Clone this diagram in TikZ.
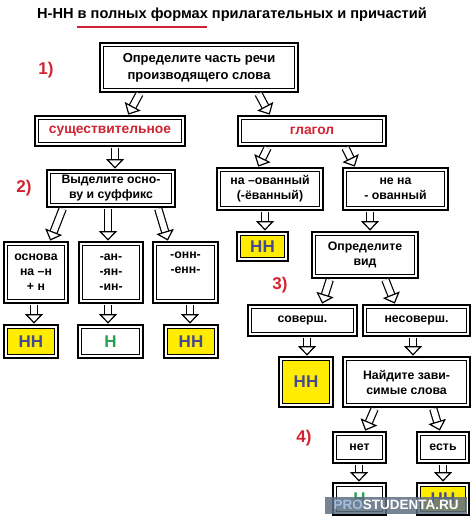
\documentclass[tikz,border=0pt]{standalone}
\usepackage{fontspec}
\setmainfont{Liberation Sans}
\usetikzlibrary{arrows.meta,calc}
\definecolor{myred}{RGB}{210,35,50}
\definecolor{mygreen}{RGB}{40,160,80}
\definecolor{yel}{RGB}{255,236,0}
\definecolor{nnblue}{RGB}{70,75,140}
\definecolor{wmgray}{RGB}{95,110,128}
\definecolor{wmblue}{RGB}{160,190,225}
\begin{document}
\begin{tikzpicture}[x=1pt,y=-1pt,
  box/.style={draw, line width=1.8pt, inner sep=0pt, align=center,
    font=\bfseries\fontsize{12.3}{15}\selectfont,
    path picture={\draw[line width=0.7pt, fill=#1]
      ([shift={(3.2pt,-3.2pt)}]path picture bounding box.north west) rectangle
      ([shift={(-3.2pt,3.2pt)}]path picture bounding box.south east);}},
  box/.default=white,
  harrow/.style={line width=1.2pt, double=white, double distance=6pt,
    -{Triangle[open, length=9.5pt, width=18pt, line width=1.2pt]},
    shorten <=1pt, shorten >=0.5pt},
  num/.style={text=myred, font=\bfseries\fontsize{17}{17}\selectfont},
  big/.style={font=\bfseries\fontsize{17}{17}\selectfont}]
\useasboundingbox (0,0) rectangle (474,521);

% title
\node[font=\bfseries\fontsize{14.6}{16}\selectfont] (title) at (232,15)
  {Н-НН в полных формах прилагательных и причастий};
\draw[myred, line width=2pt] (77,27.5) -- (207,27.5);

% numbers
\node[num] (n1) at (46,70) {1)};
\node[num] (n2) at (24,188) {2)};
\node[num] (n3) at (280,285) {3)};
\node[num] (n4) at (304,438) {4)};

% boxes
\node[box, minimum width=198, minimum height=49, font=\bfseries\fontsize{13}{17}\selectfont] (top) at (199,67.5)
  {Определите часть речи\\производящего слова};
\node[box, minimum width=150, minimum height=30, text=myred, font=\bfseries\fontsize{13.8}{15}\selectfont] (noun) at (110,131) {существительное};
\node[box, minimum width=148, minimum height=30, text=myred, font=\bfseries\fontsize{13.8}{15}\selectfont] (verb) at (312,131) {глагол};
\node[box, minimum width=128, minimum height=37] (sel) at (111,188.5) {Выделите осно-\\ву и суффикс};

\node[box, minimum width=64, minimum height=61] (b1) at (36,272.5) {основа\\на –н\\+ н};
\node[box, minimum width=64, minimum height=61] (b2) at (111,272.5) {-ан-\\-ян-\\-ин-};
\node[box, minimum width=65, minimum height=61] (b3) at (185.5,272.5) {-онн-\\-енн-\\\strut};

\node[box=yel, minimum width=54, minimum height=33, text=nnblue, big] (r1) at (31,341.5) {НН};
\node[box, minimum width=65, minimum height=33, text=mygreen, big] (r2) at (110.5,341.5) {Н};
\node[box=yel, minimum width=54, minimum height=33, text=nnblue, big] (r3) at (191,341.5) {НН};

\node[box, minimum width=106, minimum height=42] (ov) at (270,189) {на –ованный\\(-ёванный)};
\node[box, minimum width=105, minimum height=42] (neov) at (395.5,189) {не на\\- ованный};
\node[box=yel, minimum width=51, minimum height=29, text=nnblue, big] (nn4) at (262.5,246.5) {НН};
\node[box, minimum width=106, minimum height=46] (vid) at (365,255) {Определите\\вид};

\node[box, minimum width=109, minimum height=31] (sov) at (302.5,320.5) {соверш.};
\node[box, minimum width=107, minimum height=31] (nesov) at (416.5,320.5) {несоверш.};
\node[box=yel, minimum width=54, minimum height=50, text=nnblue, big] (nn5) at (306,382) {НН};
\node[box, minimum width=127, minimum height=50] (find) at (406.5,382) {Найдите зави-\\симые слова};

\node[box, minimum width=53, minimum height=31] (net) at (359.5,447.5) {нет};
\node[box, minimum width=52, minimum height=31] (est) at (443,447.5) {есть};
\node[box, minimum width=53, minimum height=32, text=mygreen, big] (h6) at (359.5,499) {Н};
\node[box=yel, minimum width=52, minimum height=32, text=nnblue, big] (nn6) at (443,499) {НН};

% arrows
\draw[harrow] ([xshift=-59pt]top.south) -- ([xshift=18pt]noun.north);
\draw[harrow] ([xshift=59pt]top.south) -- ([xshift=-42pt]verb.north);
\draw[harrow] ([xshift=5pt]noun.south) -- ([xshift=4pt]sel.north);
\draw[harrow] ([xshift=-48pt]sel.south) -- ([xshift=14pt]b1.north);
\draw[harrow] ([xshift=-3pt]sel.south) -- ([xshift=-3pt]b2.north);
\draw[harrow] ([xshift=47pt]sel.south) -- ([xshift=-17.5pt]b3.north);
\draw[harrow] ([xshift=-44pt]verb.south) -- ([xshift=-12pt]ov.north);
\draw[harrow] ([xshift=33pt]verb.south) -- ([xshift=-40.5pt]neov.north);
\draw[harrow] ([xshift=-5pt]ov.south) -- ([xshift=2.5pt]nn4.north);
\draw[harrow] ([xshift=-25.5pt]neov.south) -- ([xshift=5pt]vid.north);
\draw[harrow] ([xshift=-2pt]b1.south) -- ([xshift=3pt]r1.north);
\draw[harrow] ([xshift=-3pt]b2.south) -- ([xshift=-2.5pt]r2.north);
\draw[harrow] ([xshift=4.5pt]b3.south) -- ([xshift=-1pt]r3.north);
\draw[harrow] ([xshift=-35pt]vid.south) -- ([xshift=19.5pt]sov.north);
\draw[harrow] ([xshift=20pt]vid.south) -- ([xshift=-21.5pt]nesov.north);
\draw[harrow] ([xshift=4.5pt]sov.south) -- ([xshift=1pt]nn5.north);
\draw[harrow] ([xshift=-3.5pt]nesov.south) -- ([xshift=6.5pt]find.north);
\draw[harrow] ([xshift=-31.5pt]find.south) -- ([xshift=5.5pt]net.north);
\draw[harrow] ([xshift=26.5pt]find.south) -- ([xshift=-3pt]est.north);
\draw[harrow] ([xshift=-0.5pt]net.south) -- ([xshift=-0.5pt]h6.north);
\draw[harrow] (est.south) -- (nn6.north);

% watermark
\node[fill=wmgray, fill opacity=0.85, text opacity=1, minimum width=142, minimum height=17, inner sep=0pt,
  font=\bfseries\fontsize{13.5}{14}\selectfont] (wm) at (396,505)
  {\textcolor{wmblue}{PRO}\textcolor{white}{STUDENTA.RU}};
\end{tikzpicture}
\end{document}
